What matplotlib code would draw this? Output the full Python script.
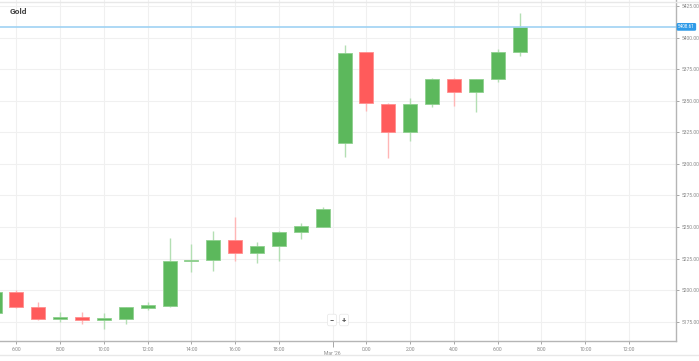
import matplotlib.pyplot as plt
from matplotlib.lines import Line2D
import numpy as np

# hourly gold candles (slot 0 = 6:00), trading pause between 20:00 and 23:00
times = ['5:00', '6:00', '7:00', '8:00', '9:00', '10:00', '11:00', '12:00',
         '13:00', '14:00', '15:00', '16:00', '17:00', '18:00', '19:00', '20:00',
         '23:00', '0:00', '1:00', '2:00', '3:00', '4:00', '5:00', '6:00', '7:00']
opens = [5182.1, 5198.3, 5186.4, 5176.9, 5178.7, 5176.3, 5177.4, 5186.1,
         5187.4, 5223.4, 5224.1, 5240.0, 5229.4, 5235.2, 5246.1, 5250.3,
         5316.8, 5388.4, 5347.7, 5325.5, 5347.5, 5367.3, 5356.7, 5367.0, 5388.7]
highs = [5199.0, 5200.1, 5190.4, 5182.9, 5182.9, 5181.6, 5187.0, 5190.8,
         5241.1, 5236.6, 5247.1, 5258.2, 5237.9, 5247.0, 5252.9, 5266.1,
         5394.2, 5388.6, 5348.0, 5352.5, 5368.0, 5368.3, 5367.5, 5390.8, 5419.8]
lows = [5181.0, 5186.0, 5176.3, 5175.0, 5172.9, 5169.5, 5173.2, 5184.3,
        5187.0, 5214.6, 5215.4, 5223.1, 5221.7, 5223.3, 5240.7, 5250.0,
        5305.7, 5342.2, 5304.5, 5317.9, 5344.9, 5345.9, 5341.4, 5364.7, 5385.7]
closes = [5198.3, 5186.4, 5177.1, 5178.7, 5176.3, 5177.9, 5186.4, 5188.2,
          5223.3, 5223.9, 5239.7, 5229.4, 5235.2, 5245.8, 5250.6, 5264.0,
          5388.1, 5348.0, 5325.5, 5347.2, 5367.3, 5356.7, 5367.0, 5388.4, 5408.7]
last_price = 5408.61

tick_slots = [0, 2, 4, 6, 8, 10, 12, 16, 18, 20, 22, 24, 26, 28]
tick_labels = ['6:00', '8:00', '10:00', '12:00', '14:00', '16:00', '18:00',
               '0:00', '2:00', '4:00', '6:00', '8:00', '10:00', '12:00']
date_slot = 14.45
date_label = "Mar '26"
y_ticks = np.arange(5175, 5426, 25)

up_body, up_wick = '#5cb85c', '#b3dfb3'
down_body, down_wick = '#ff5b5b', '#ffb6b6'

plt.rcParams['font.family'] = ['Roboto', 'DejaVu Sans']

fig = plt.figure(figsize=(6.99, 3.61), dpi=100)
ax = fig.add_axes([0, 20 / 361, 676 / 699, 341 / 361])

x = np.arange(len(times)) - 1
o, h, l, c = map(np.array, (opens, highs, lows, closes))
up = c >= o

for xi, oi, hi, li, ci, u in zip(x, o, h, l, c, up):
    ax.vlines(xi, li, hi, color=up_wick if u else down_wick, lw=1, zorder=2)
    bottom = min(oi, ci)
    height = max(abs(ci - oi), 0.7)
    ax.bar(xi, height, bottom=bottom, width=0.64,
           color=up_body if u else down_body,
           edgecolor='#8fd08f' if u else '#ff8f8f', lw=0.6, zorder=3)

# last price line + label
ax.axhline(last_price, color='#9fd2f3', lw=1.2, zorder=4)
ax.text(1.003, last_price, f'{last_price:.2f}', transform=ax.get_yaxis_transform(),
        fontsize=3.3, color='white', va='center', ha='left', zorder=6,
        bbox=dict(boxstyle='round,pad=0.3,rounding_size=0.3', fc='#2f9be8', ec='none'),
        clip_on=False)

ax.set_xlim(-0.754, 30.15)
ax.set_ylim(5159.7, 5429.9)

ax.yaxis.tick_right()
ax.set_yticks(y_ticks)
ax.set_yticklabels([f'{v:.2f}' for v in y_ticks])
ax.set_xticks(tick_slots + [date_slot])
ax.set_xticklabels(tick_labels + [date_label])
ax.tick_params(axis='both', labelsize=3.6, colors='#999999', labelcolor='#888888',
               length=2.5, width=0.6)
ax.tick_params(axis='y', pad=1.2)
ax.tick_params(axis='x', pad=2)
ax.get_xticklabels()[-1].set_y(-0.012)
ax.xaxis.get_major_ticks()[-1].tick1line.set_linestyle(':')
ax.xaxis.get_major_ticks()[-1].tick1line.set_markersize(4)

ax.grid(True, color='#f0f0f0', lw=0.8, zorder=0)
for s in ['top', 'left']:
    ax.spines[s].set_visible(False)
for s in ['right', 'bottom']:
    ax.spines[s].set_color('#b5b5b5')
    ax.spines[s].set_linewidth(1)

# title and zoom buttons
fig.text(10 / 699, 1 - 12 / 361, 'Gold', fontsize=6, fontweight='bold',
         color='#444444', va='center', ha='left')
for bx, sym in [(332, '−'), (344, '+')]:
    fig.text(bx / 699, 1 - 320 / 361, sym, fontsize=5.5, fontweight='bold',
             color='#555555', ha='center', va='center',
             bbox=dict(boxstyle='round,pad=0.3,rounding_size=0.2', fc='white', ec='#e6e6e6', lw=0.5))

# widget borders
fig.add_artist(Line2D([0, 1], [1 - 1.5 / 361] * 2, color='#e8e8e8', lw=1))
fig.add_artist(Line2D([0, 1], [1 - 355 / 361] * 2, color='#e8e8e8', lw=1))

fig.savefig('out.png', dpi=100)
